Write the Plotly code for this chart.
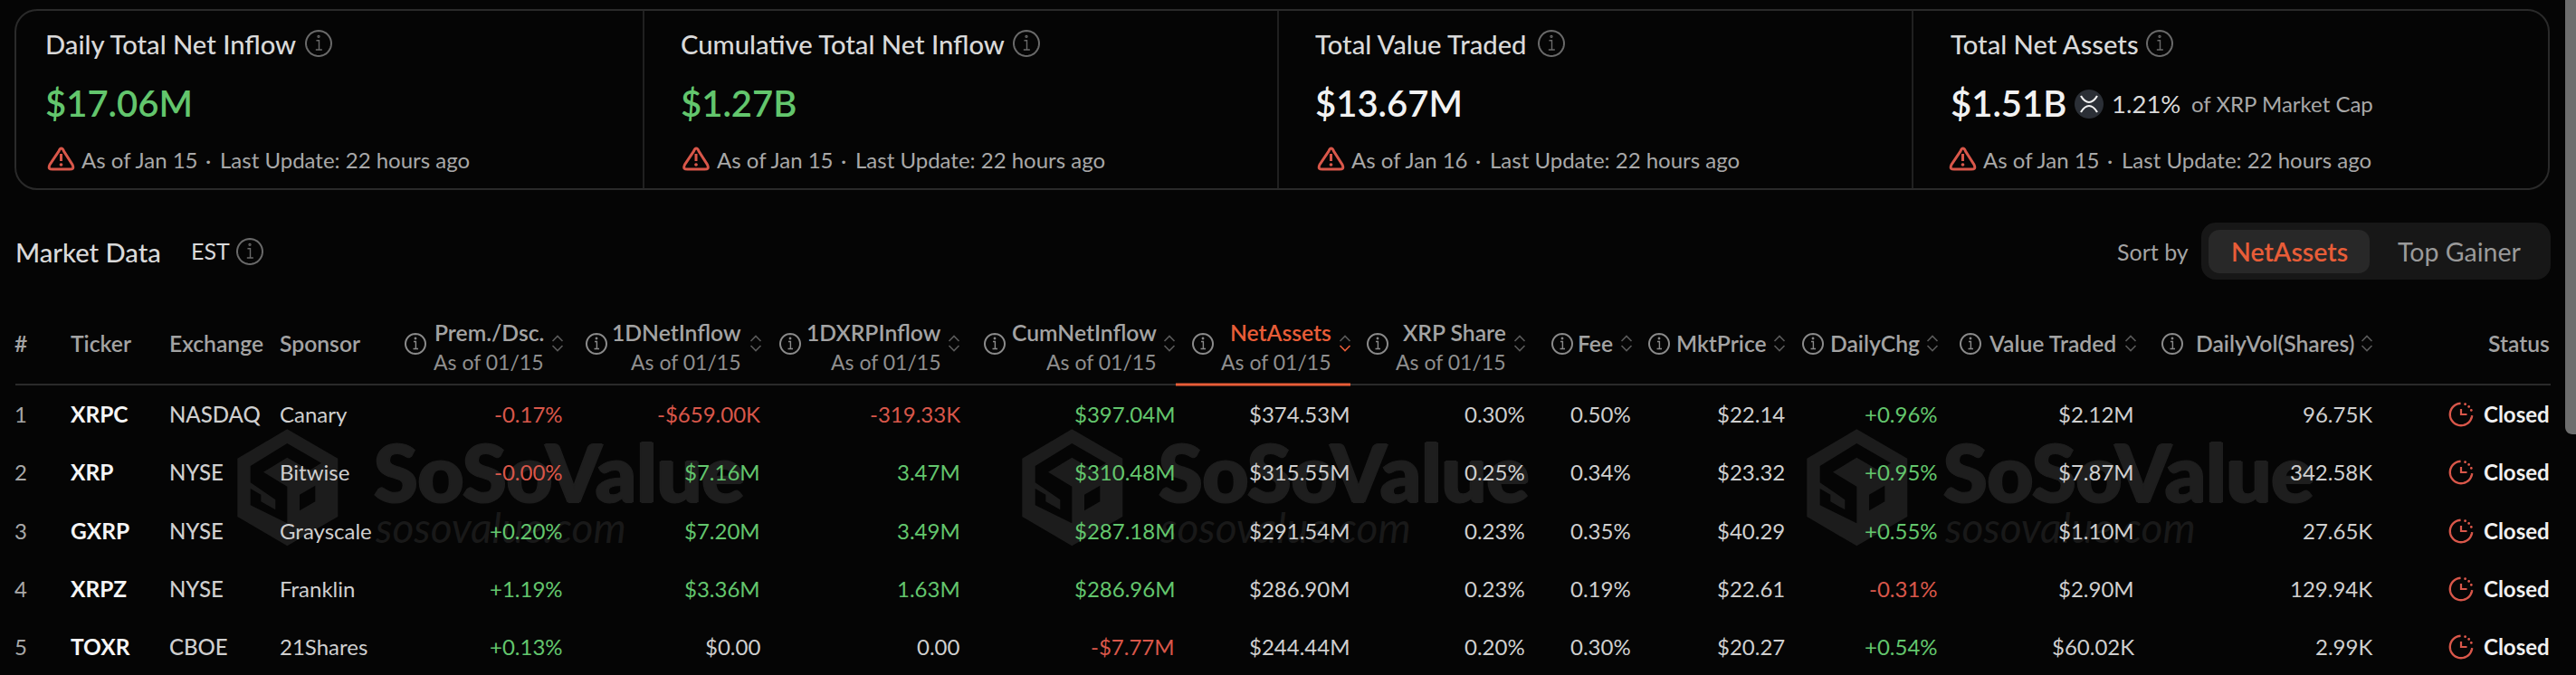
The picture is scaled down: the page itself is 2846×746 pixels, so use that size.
import math
import plotly.graph_objects as go

# ---- data ----
card_titles = ["Daily Total Net Inflow", "Cumulative Total Net Inflow", "Total Value Traded", "Total Net Assets"]
card_values = ["$17.06M", "$1.27B", "$13.67M", "$1.51B"]
card_dates = ["As of Jan 15", "As of Jan 15", "As of Jan 16", "As of Jan 15"]
card_update = "Last Update: 22 hours ago"
market_cap_share = "1.21%"
rank = ["1", "2", "3", "4", "5"]
ticker = ["XRPC", "XRP", "GXRP", "XRPZ", "TOXR"]
exchange = ["NASDAQ", "NYSE", "NYSE", "NYSE", "CBOE"]
sponsor = ["Canary", "Bitwise", "Grayscale", "Franklin", "21Shares"]
prem_dsc = ["-0.17%", "-0.00%", "+0.20%", "+1.19%", "+0.13%"]
net_inflow_1d = ["-$659.00K", "$7.16M", "$7.20M", "$3.36M", "$0.00"]
xrp_inflow_1d = ["-319.33K", "3.47M", "3.49M", "1.63M", "0.00"]
cum_inflow = ["$397.04M", "$310.48M", "$287.18M", "$286.96M", "-$7.77M"]
net_assets = ["$374.53M", "$315.55M", "$291.54M", "$286.90M", "$244.44M"]
xrp_share = ["0.30%", "0.25%", "0.23%", "0.23%", "0.20%"]
fee = ["0.50%", "0.34%", "0.35%", "0.19%", "0.30%"]
mkt_price = ["$22.14", "$23.32", "$40.29", "$22.61", "$20.27"]
daily_chg = ["+0.96%", "+0.95%", "+0.55%", "-0.31%", "+0.54%"]
value_traded = ["$2.12M", "$7.87M", "$1.10M", "$2.90M", "$60.02K"]
daily_vol = ["96.75K", "342.58K", "27.65K", "129.94K", "2.99K"]
status = ["Closed"] * 5

# ---- style ----
BG = "#050505"
FONT = "Lato"
GREEN = "#63c66d"
RED = "#d9574a"
ORANGE = "#e85d38"
TXT = "#cfcfcf"
HDR = "#a3a3a3"
SUB = "#8f8f8f"
LINE = "#2a2a2a"
WM = "#1e1e1e"
HS = 24.7  # header label size

W, H = 2846, 746
shapes, anns = [], []


def text(x, y, s, size, color, anchor="left", weight=400, style="normal", shadow="none"):
    anns.append(dict(x=x, y=y - 1, xref="x", yref="y", text=s, showarrow=False, xanchor=anchor, yanchor="middle",
                     borderpad=0, borderwidth=0,
                     font=dict(family=FONT, size=size, color=color, weight=weight, style=style, shadow=shadow)))


def path(d, line=None, width=0, fill=None, layer="above"):
    shapes.append(dict(type="path", path=d, xref="x", yref="y", layer=layer,
                       line=dict(color=line or "rgba(0,0,0,0)", width=width),
                       fillcolor=fill or "rgba(0,0,0,0)"))


def rrect(x0, y0, x1, y1, r):
    k = r * 0.45
    return (f"M{x0+r},{y0} L{x1-r},{y0} C{x1-k},{y0} {x1},{y0+k} {x1},{y0+r} L{x1},{y1-r} "
            f"C{x1},{y1-k} {x1-k},{y1} {x1-r},{y1} L{x0+r},{y1} C{x0+k},{y1} {x0},{y1-k} {x0},{y1-r} "
            f"L{x0},{y0+r} C{x0},{y0+k} {x0+k},{y0} {x0+r},{y0} Z")


def arc(cx, cy, r, a0, a1, n=40):
    pts = [(cx + r * math.cos(math.radians(a0 + (a1 - a0) * i / n)),
            cy + r * math.sin(math.radians(a0 + (a1 - a0) * i / n))) for i in range(n + 1)]
    return "M" + " L".join(f"{x:.2f},{y:.2f}" for x, y in pts)


def info(cx, cy, r, color):
    path(arc(cx, cy, r, 0, 360) + " Z", color, 2)
    s = r / 11
    path(f"M{cx-2*s},{cy-2.5*s} L{cx+0.4*s},{cy-2.5*s} L{cx+0.4*s},{cy+5.5*s} M{cx-2.5*s},{cy+5.5*s} L{cx+3*s},{cy+5.5*s}",
         color, 1.4)
    path(arc(cx, cy - 6 * s, 0.8 * s, 0, 360, 12) + " Z", color, 1.2)


def sort_icon(cx, cy, active=False):
    path(f"M{cx-5.5},{cy-3} L{cx},{cy-8.5} L{cx+5.5},{cy-3}", "#5a5a5a", 1.6)
    path(f"M{cx-5.5},{cy+2} L{cx},{cy+7.5} L{cx+5.5},{cy+2}", ORANGE if active else "#5a5a5a", 1.6)


def warn(x, cy):
    p = (f"M{x+11},{cy-9} C{x+12.5},{cy-13} {x+15},{cy-13} {x+16.5},{cy-9} L{x+26},{cy+6} "
         f"C{x+28},{cy+10.5} {x+26},{cy+11} {x+23},{cy+11} L{x+4},{cy+11} C{x+1},{cy+11} {x-1},{cy+10.5} {x+1},{cy+6} Z")
    path(p, RED, 3)
    path(f"M{x+13.5},{cy-6} L{x+13.5},{cy+2}", RED, 3)
    path(arc(x + 13.5, cy + 6, 1, 0, 360, 12) + " Z", RED, 1.6, RED)


def clock(cx, cy):
    path(arc(cx, cy, 12.2, 5, 268), RED, 2.4)
    path(f"M{cx},{cy-6} L{cx},{cy} L{cx+6.5},{cy}", RED, 2.2)
    for a in (-68, -45, -22):
        x = cx + 12.2 * math.cos(math.radians(a))
        y = cy + 12.2 * math.sin(math.radians(a))
        path(arc(x, y, 0.7, 0, 360, 10) + " Z", RED, 1.4, RED)


def poly(points, dx):
    return "M" + " L".join(f"{255+px/3+dx:.1f},{465+py/3:.1f}" for px, py in points) + " Z"


HEX = [(187, 28), (355, 125), (355, 318), (187, 415), (22, 318), (22, 125)]
S_BAND = [(187, 75), (300, 140), (260, 165), (187, 122), (108, 170), (187, 218), (187, 340), (65, 280), (65, 225),
          (100, 245), (100, 268), (148, 295), (148, 262), (65, 205), (65, 150)]
FACET = [(228, 245), (280, 215), (280, 268), (228, 298)]


def watermark(dx):
    path(poly(HEX, dx), None, 0, "#1c1c1c", layer="below")
    path(poly(S_BAND, dx), None, 0, BG, layer="below")
    path(poly(FACET, dx), None, 0, BG, layer="below")
    bold = f"1.5px 0 0 {WM}, -1.5px 0 0 {WM}, 0 1px 0 {WM}, 0 -1px 0 {WM}"
    text(413 + dx, 522, "SoSoValue", 88, WM, weight=900, shadow=bold)
    text(414 + dx, 583, "sosovalue.com", 46, "#191919", style="italic")


# ---- watermarks (below everything) ----
for dx in (0, 867, 1734):
    watermark(dx)

# ---- cards ----
path(rrect(17, 11, 2816, 209, 24), LINE, 2)
for x in (711, 1412, 2113):
    path(f"M{x},11 L{x},209", LINE, 1.5)
card_x = [50, 751.5, 1452.5, 2154.5]
card_foot_x = [50, 751.5, 1453, 2151]
card_info = [352, 1134, 1714, 2386]
for i, x in enumerate(card_x):
    text(x, 49, card_titles[i], 29.2, "#d9d9d9", weight=500)
    info(card_info[i], 48, 14, "#6a6a6a")
    col = GREEN if i < 2 else "#f2f2f2"
    text(x, 115, card_values[i], 40, col, weight=600)
    fx = card_foot_x[i]
    warn(fx + 4, 176)
    text(fx + 40, 177, card_dates[i], 24, "#a8a8a8")
    text(fx + 180, 177, "·", 24, "#a8a8a8", anchor="center")
    text(fx + 193, 177, card_update, 24, "#a8a8a8")
path(arc(2308, 115, 16, 0, 360) + " Z", None, 0, "#2b2f36")
path("M2299,106 C2302,111 2305,113 2308,113 C2311,113 2314,111 2317,106 "
     "M2299,124 C2302,119 2305,117 2308,117 C2311,117 2314,119 2317,124", "#f0f0f0", 2.2)
text(2333, 115, market_cap_share, 27.5, "#d9d9d9")
text(2421, 115, "of XRP Market Cap", 24, "#a8a8a8")

# ---- market data header ----
text(17, 279, "Market Data", 29.2, "#d9d9d9", weight=500)
text(211, 278, "EST", 25, "#d9d9d9")
info(276, 278, 14, "#6a6a6a")
text(2339, 279, "Sort by", 25, "#a3a3a3")
path(rrect(2432, 246, 2818, 309, 16), None, 0, "#171717")
path(rrect(2440, 254, 2618, 302, 12), None, 0, "#282828")
text(2529, 279, "NetAssets", 28.5, ORANGE, anchor="center", weight=600)
text(2717, 279, "Top Gainer", 28.5, "#9a9a9a", anchor="center")

# ---- table ----
ROW_Y = [458, 522, 587, 651, 715]
text(16, 380, "#", HS, HDR, weight=600)
text(77.5, 380, "Ticker", HS, HDR, weight=600)
text(187, 380, "Exchange", HS, HDR, weight=600)
text(309, 380, "Sponsor", HS, HDR, weight=600)
text(2817, 380, "Status", HS, HDR, anchor="right", weight=600)

double_hdr = [("Prem./Dsc.", 459, 601, 616), ("1DNetInflow", 659, 819, 835), ("1DXRPInflow", 873, 1040, 1054),
              ("CumNetInflow", 1099, 1278, 1292), ("NetAssets", 1329, 1471, 1486), ("XRP Share", 1522, 1664, 1679)]
for name, ix, tr, sx in double_hdr:
    active = name == "NetAssets"
    info(ix, 380, 11, "#8a8a8a")
    text(tr, 368, name, HS, ORANGE if active else HDR, anchor="right", weight=600)
    text(tr, 401, "As of 01/15", 23, SUB, anchor="right")
    sort_icon(sx, 380, active)
single_hdr = [("Fee", 1726, 1782, 1797), ("MktPrice", 1833, 1952, 1966), ("DailyChg", 2003, 2121, 2135),
              ("Value Traded", 2177, 2338, 2354), ("DailyVol(Shares)", 2400, 2601, 2615)]
for name, ix, tr, sx in single_hdr:
    info(ix, 380, 11, "#8a8a8a")
    text(tr, 380, name, HS, HDR, anchor="right", weight=600)
    sort_icon(sx, 380)
path("M17,425 L2818,425", LINE, 2)
path("M1299,425 L1492,425", ORANGE, 3)


def signed(v):
    if v.startswith("-"):
        return RED
    if float(v.strip("+$%KM")) == 0:
        return TXT
    return GREEN


right_cols = [(prem_dsc, 622, True), (net_inflow_1d, 840, True), (xrp_inflow_1d, 1061, True), (cum_inflow, 1298, True),
              (net_assets, 1491, False), (xrp_share, 1684.5, False), (fee, 1802, False), (mkt_price, 1972, False),
              (daily_chg, 2141, True), (value_traded, 2358, False), (daily_vol, 2621, False)]
for i, y in enumerate(ROW_Y):
    text(16, y, rank[i], 24, "#a8a8a8")
    text(77.5, y, ticker[i], 24.5, "#f5f5f5", weight=700)
    text(187, y, exchange[i], 24, TXT, weight=500)
    text(309, y, sponsor[i], 24, TXT)
    for col, xr, colored in right_cols:
        text(xr, y, col[i], 24, signed(col[i]) if colored else TXT, anchor="right")
    clock(2719, y)
    text(2817, y, status[i], 24, "#f0f0f0", anchor="right", weight=700)

# scrollbar
path(rrect(2834, -12, 2858, 480, 8), None, 0, "#6e6e6e")

fig = go.Figure(go.Scatter(x=[], y=[]))
fig.update_layout(width=W, height=H, margin=dict(l=0, r=0, t=0, b=0), paper_bgcolor=BG, plot_bgcolor=BG,
                  showlegend=False, shapes=shapes, annotations=anns,
                  xaxis=dict(range=[0, W], visible=False, fixedrange=True),
                  yaxis=dict(range=[H, 0], visible=False, fixedrange=True))
fig.write_html("out.html", config={"displayModeBar": False},
               post_script="document.body.style.margin='0';document.body.style.overflow='hidden';document.body.style.background='#050505';")
